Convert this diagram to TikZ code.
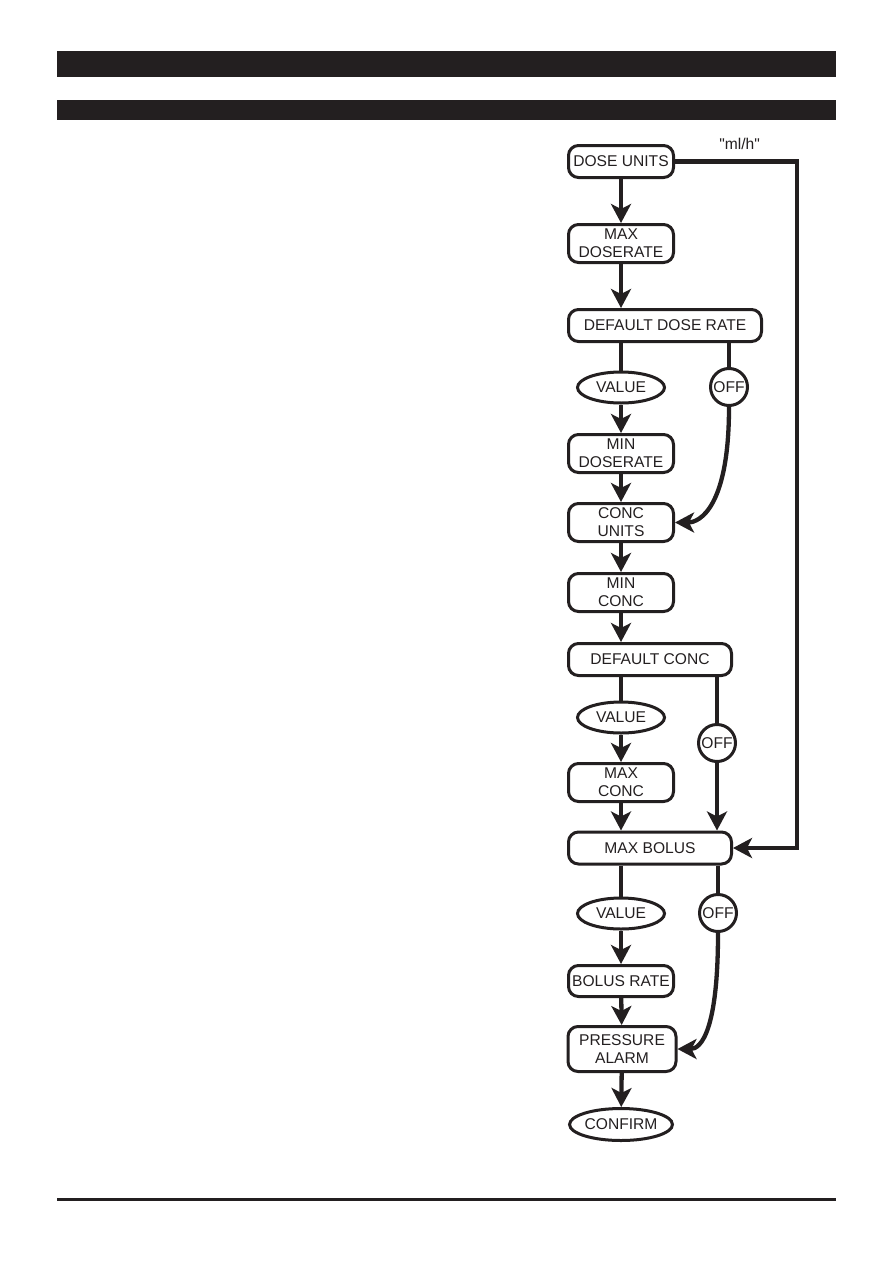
\documentclass[tikz,border=0pt]{standalone}
\usepackage{fontspec}
\setmainfont{Liberation Sans}[Ligatures=TeXOff]
\usetikzlibrary{arrows.meta, shapes.geometric}
\definecolor{ink}{HTML}{231F20}

\begin{document}
\begin{tikzpicture}[x=1pt, y=-1pt, ink, line width=4.3pt,
    font=\fontsize{15.6}{18}\selectfont,
    >={Stealth[length=19pt, width=20pt, inset=5pt]},
    menu/.style={draw, line width=3pt, rounded corners=10pt, align=center,
        inner sep=0pt, minimum width=105pt, minimum height=38pt},
    choice/.style={draw, line width=3pt, ellipse, inner sep=0pt,
        minimum width=87pt, minimum height=31pt},
    offbox/.style={draw, line width=3pt, circle, inner sep=0pt, minimum size=37pt}]
    \useasboundingbox (0,0) rectangle (893,1263);
    \fill (57,51) rectangle (836,77);
    \fill (57,100) rectangle (836,120);
    \fill (57,1198) rectangle (836,1200.5);

    \node[menu, minimum height=32pt] (doseunits) at (621,161.5) {DOSE UNITS};
    \node[menu] (maxdose) at (621,243.5) {MAX\\DOSERATE};
    \node[menu, minimum width=193pt, minimum height=32pt] (defdose) at (665,325.5) {DEFAULT DOSE RATE};
    \node[choice] (valdose) at (621,387.5) {VALUE};
    \node[offbox] (offdose) at (729,387) {OFF};
    \node[menu] (mindose) at (621,453.5) {MIN\\DOSERATE};
    \node[menu] (concunits) at (621,522.5) {CONC\\UNITS};
    \node[menu] (minconc) at (621,592.5) {MIN\\CONC};
    \node[menu, minimum width=163pt, minimum height=32pt] (defconc) at (650,659.5) {DEFAULT CONC};
    \node[choice] (valconc) at (621,717.5) {VALUE};
    \node[offbox] (offconc) at (717,743) {OFF};
    \node[menu] (maxconc) at (621,782.5) {MAX\\CONC};
    \node[menu, minimum width=163pt, minimum height=32pt] (maxbolus) at (650,848) {MAX BOLUS};
    \node[choice] (valbolus) at (621,913.5) {VALUE};
    \node[offbox] (offbolus) at (718,913) {OFF};
    \node[menu, minimum height=31pt] (bolusrate) at (621,981) {BOLUS RATE};
    \node[menu, minimum width=108pt, minimum height=45pt] (pressure) at (622,1049) {PRESSURE\\ALARM};
    \node[choice, minimum height=32pt] (confirm) at (621,1124.5) {CONFIRM};
    \coordinate (bypass) at (797,161.5);

    \draw[->] (doseunits) -- (maxdose);
    \draw[->] (maxdose.south) -- (maxdose.south |- defdose.north);
    \draw (valdose |- defdose.south) -- (valdose);
    \draw (offdose |- defdose.south) -- (offdose);
    \draw[->] (valdose) -- (mindose);
    \draw[->] (mindose) -- (concunits);
    \draw[->] (offdose.south) to[out=-90, in=0, out looseness=2, in looseness=0.5] (concunits.east);
    \draw[->] (concunits) -- (minconc);
    \draw[->] (minconc.south) -- (minconc.south |- defconc.north);
    \draw (valconc |- defconc.south) -- (valconc);
    \draw (offconc |- defconc.south) -- (offconc);
    \draw[->] (valconc) -- (maxconc);
    \draw[->] (maxconc.south) -- (maxconc.south |- maxbolus.north);
    \draw[->] (offconc) -- (offconc |- maxbolus.north);
    \draw[->] (doseunits.east) -- node[above=6pt, pos=0.53] {"ml/h"} (bypass) |- (maxbolus.east);
    \draw (valbolus |- maxbolus.south) -- (valbolus);
    \draw (offbolus |- maxbolus.south) -- (offbolus);
    \draw[->] (valbolus) -- (bolusrate);
    \draw[->] (bolusrate) -- (pressure);
    \draw[->] (offbolus.south) to[out=-90, in=0, out looseness=2, in looseness=0.5] (pressure.east);
    \draw[->] (pressure) -- (confirm);
\end{tikzpicture}
\end{document}
